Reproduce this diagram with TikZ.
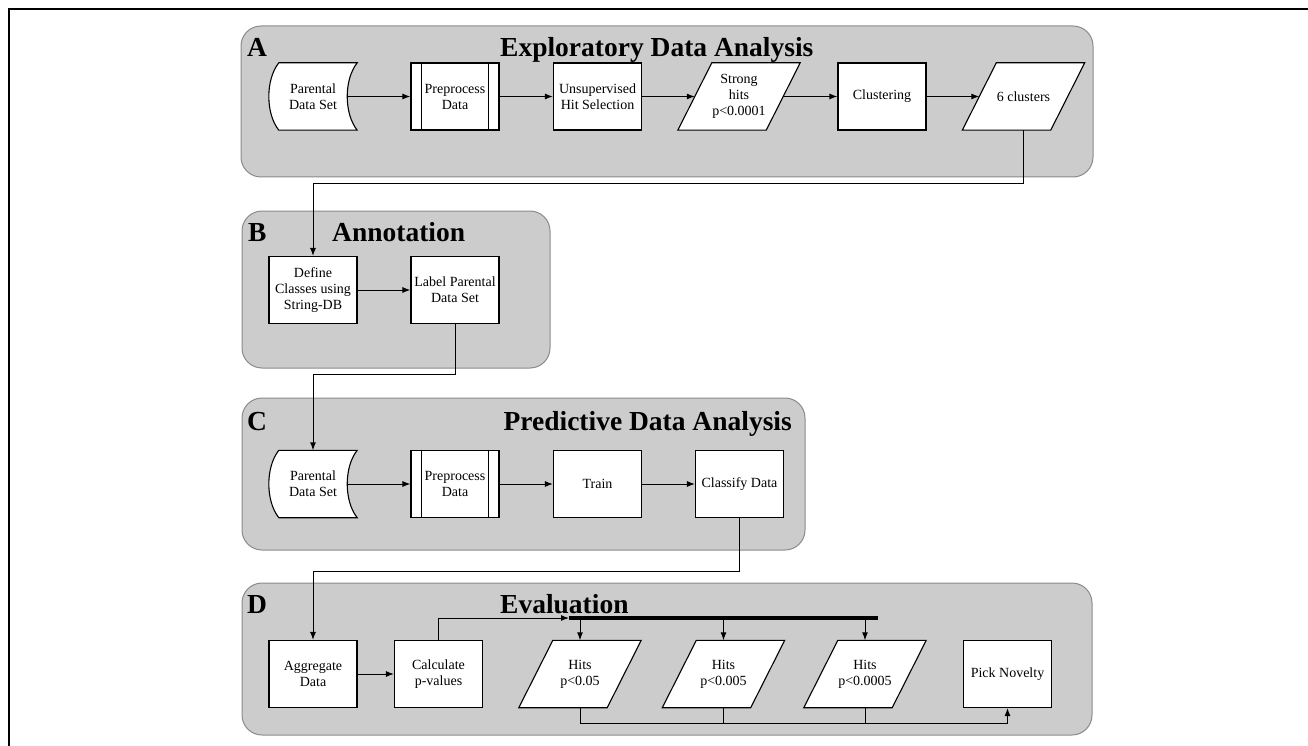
\documentclass[tikz,border=0pt]{standalone}
\usepackage{fontspec}
\setmainfont{Liberation Serif}
\usetikzlibrary{arrows.meta,calc}
\pgfdeclarelayer{panels}
\pgfdeclarelayer{shapes}
\pgfsetlayers{panels,shapes,main}
\definecolor{panelfill}{HTML}{CCCCCC}
\definecolor{paneledge}{HTML}{8A8A8A}
\tikzset{
  panel/.style={draw=paneledge, line width=1pt, fill=panelfill, rounded corners=20pt},
  boxtext/.style={font=\fontsize{14}{16}\selectfont, align=center, inner sep=1pt,
                  minimum width=88pt, minimum height=67pt},
  box/.style={boxtext, draw=black, line width=1.1pt, fill=white},
  outline/.style={draw=black, line width=1.1pt, fill=white},
  ghost/.style={boxtext, draw=none},
  title/.style={font=\fontsize{27.5}{30}\selectfont\bfseries, inner sep=0pt},
  arr/.style={line width=1pt, -{Latex[length=8pt,width=6pt]}},
  wire/.style={line width=1pt},
  bar/.style={line width=3.5pt},
}
\begin{document}
\begin{tikzpicture}[x=1pt, y=-1pt]
\useasboundingbox (0,0) rectangle (1308,746);

% outer frame
\draw[line width=1.3pt] (9,746) -- (9,9) -- (1308,9);

% section panels
\begin{pgfonlayer}{panels}
  \draw[panel] (241,26) rectangle (1093,177);
  \draw[panel] (242,211) rectangle (550,368);
  \draw[panel] (242,398) rectangle (805,550);
  \draw[panel] (242,583) rectangle (1092,735);
\end{pgfonlayer}

% section titles
\node[title, anchor=base west] (la) at (247,57) {A};
\node[title, anchor=base west] (ta) at (500,57) {Exploratory Data Analysis};
\node[title, anchor=base west] (lb) at (248,241) {B};
\node[title, anchor=base west] (tb) at (332,241) {Annotation};
\node[title, anchor=base west] (lc) at (247,430) {C};
\node[title, anchor=base east] (tc) at (792,430) {Predictive Data Analysis};
\node[title, anchor=base west] (ld) at (247,613) {D};
\node[title, anchor=base west] (td) at (500,613) {Evaluation};

% A: exploratory analysis
\node[ghost] (pa1) at (313,96.5) {Parental\\Data Set};
\node[box]   (pp1) at (455,96.5) {Preprocess\\Data};
\node[box]   (uh)  at (597.5,96.5) {Unsupervised\\Hit Selection};
\node[ghost] (sh)  at (739,96.5) {Strong\\hits\\p<0.0001};
\node[box]   (cl)  at (882,96.5) {Clustering};
\node[ghost] (c6)  at (1023.5,96.5) {6 clusters};

% B: annotation
\node[box] (dc) at (313,290) {Define\\Classes using\\String-DB};
\node[box] (lp) at (455,290) {Label Parental\\Data Set};

% C: predictive analysis
\node[ghost] (pa2) at (313,484) {Parental\\Data Set};
\node[box]   (pp2) at (455,484) {Preprocess\\Data};
\node[box]   (tr)  at (597.5,484) {Train};
\node[box]   (cd)  at (739.5,484) {Classify Data};

% D: evaluation
\node[box]   (ag) at (313,674) {Aggregate\\Data};
\node[box]   (cp) at (438.5,674) {Calculate\\p-values};
\node[ghost] (h1) at (580,674) {Hits\\p<0.05};
\node[ghost] (h2) at (723.5,674) {Hits\\p<0.005};
\node[ghost] (h3) at (865,674) {Hits\\p<0.0005};
\node[box]   (pn) at (1007.5,674) {Pick Novelty};

% outlines of the stored-data and data (parallelogram) symbols
\begin{pgfonlayer}{shapes}
  \foreach \n in {pa1,pa2}{
    \draw[outline]
      ($(\n.north west)+(10,0)$) -- (\n.north east)
      .. controls ($(\n.north east)+(-13.3,16.75)$) and ($(\n.south east)+(-13.3,-16.75)$) .. (\n.south east)
      -- ($(\n.south west)+(10,0)$)
      .. controls ($(\n.south west)+(-3.3,-16.75)$) and ($(\n.north west)+(-3.3,16.75)$) .. ($(\n.north west)+(10,0)$)
      -- cycle;
  }
  \foreach \n in {sh,c6,h1,h2,h3}{
    \draw[outline]
      ($(\n.south west)+(-17,0)$) -- ($(\n.south east)+(-17,0)$)
      -- ($(\n.north east)+(17,0)$) -- ($(\n.north west)+(17,0)$) -- cycle;
  }
\end{pgfonlayer}

% side bars of the predefined-process boxes
\foreach \n in {pp1,pp2}{
  \draw[line width=1.1pt] ($(\n.north west)+(11,0)$) -- ($(\n.south west)+(11,0)$);
  \draw[line width=1.1pt] ($(\n.north east)+(-11,0)$) -- ($(\n.south east)+(-11,0)$);
}

% A flow
\draw[arr] ($(pa1.east)+(-10,0)$) -- (pp1);
\draw[arr] (pp1) -- (uh);
\draw[arr] (uh) -- (sh);
\draw[arr] (sh) -- (cl);
\draw[arr] (cl) -- (c6);
\draw[arr] (c6.south) -- ++(0,53) -| (dc.north);

% B flow
\draw[arr] (dc) -- (lp);
\draw[arr] (lp.south) -- ++(0,50) -| (pa2.north);

% C flow
\draw[arr] ($(pa2.east)+(-10,0)$) -- (pp2);
\draw[arr] (pp2) -- (tr);
\draw[arr] (tr) -- (cd);
\draw[arr] (cd.south) -- ++(0,53) -| (ag.north);

% D flow
\draw[arr] (ag) -- (cp);
\coordinate (bs) at (569,618);
\coordinate (be) at (878,618);
\draw[arr] (cp.north) |- (bs);
\draw[bar] (bs) -- (be);
\foreach \n in {h1,h2,h3}{
  \draw[arr] (\n.north |- bs) -- (\n.north);
}
\draw[wire] (h2.south) -- ++(0,16);
\draw[wire] (h3.south) -- ++(0,16);
\draw[arr] (h1.south) -- ++(0,16) -| (pn.south);
\end{tikzpicture}
\end{document}
